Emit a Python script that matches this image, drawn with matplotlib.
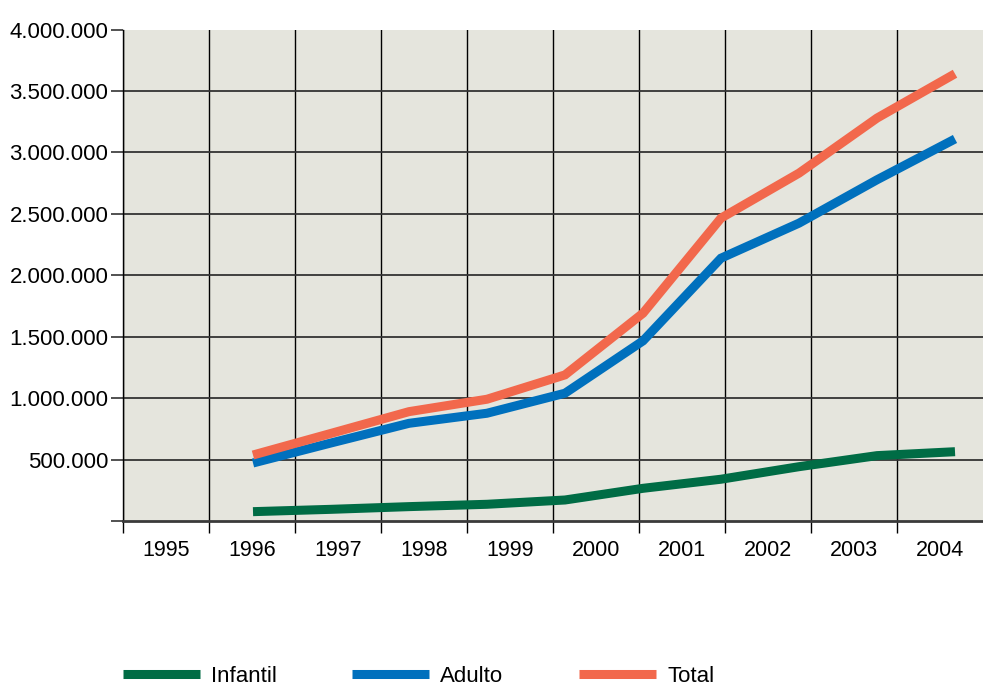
import matplotlib

matplotlib.use("Agg")
import matplotlib.pyplot as plt
from matplotlib.lines import Line2D
from matplotlib.ticker import FixedLocator, FuncFormatter, NullFormatter

# values (people)
years = [1995, 1996, 1997, 1998, 1999, 2000, 2001, 2002, 2003, 2004]
infantil = [76000, 95000, 117000, 136000, 171000, 266000, 340000, 442000, 532000, 564000]
adulto = [472000, 635000, 795000, 877000, 1040000, 1466000, 2139000, 2424000, 2777000, 3109000]
total = [537000, 713000, 890000, 991000, 1189000, 1691000, 2465000, 2831000, 3279000, 3640000]

year_labels = [str(y) for y in years]
y_ticks = list(range(0, 4000001, 500000))

series = [
    ("Infantil", infantil, "#006c45"),
    ("Adulto", adulto, "#0070bd"),
    ("Total", total, "#f2684c"),
]

plt.rcParams["font.family"] = ["Liberation Sans", "DejaVu Sans"]
FS = 16

W, H = 983, 687
fig = plt.figure(figsize=(W / 100, H / 100), dpi=100)
ax = fig.add_axes([123 / W, 1 - 521 / H, 860 / W, (521 - 29.5) / H])
ax.set_facecolor("#e5e5dd")

# category grid: one cell per year label
ax.set_xlim(0, len(years))
ax.xaxis.set_major_locator(FixedLocator(range(len(years))))
ax.xaxis.set_major_formatter(NullFormatter())
ax.xaxis.set_minor_locator(FixedLocator([i + 0.5 for i in range(len(years))]))
ax.set_xticklabels(year_labels, minor=True)
ax.tick_params(axis="x", which="major", length=8.6, width=1.0, color="black", direction="out")
ax.tick_params(axis="x", which="minor", length=0, pad=14, labelsize=FS - 0.5)

ax.set_ylim(0, 4000000)
ax.yaxis.set_major_locator(FixedLocator(y_ticks))
ax.yaxis.set_major_formatter(
    FuncFormatter(lambda v, _: "" if v == 0 else f"{int(v):,}".replace(",", "."))
)
ax.tick_params(axis="y", length=8.6, width=1.2, color="#333333", pad=2, labelsize=FS)

ax.grid(axis="x", color="black", linewidth=1.0)
ax.grid(axis="y", color="#333333", linewidth=1.3)
ax.get_ygridlines()[-1].set_visible(False)
ax.get_ygridlines()[0].set_visible(False)

for side in ("top", "right"):
    ax.spines[side].set_visible(False)
ax.spines["left"].set_color("black")
ax.spines["left"].set_linewidth(1.0)
ax.spines["bottom"].set_color("#3a3a3a")
ax.spines["bottom"].set_linewidth(2.0)

# the data run on their own year scale, offset from the label cells
ax2 = ax.twiny()
ax2.set_xlim(1995 - 130 / 78, 2004 + 28 / 78)
ax2.axis("off")
for name, vals, color in series:
    ax2.plot(years, vals, color=color, linewidth=6.5,
             solid_capstyle="butt", solid_joinstyle="miter", label=name)

handles = [Line2D([], [], color=c, linewidth=6.5, solid_capstyle="butt")
           for _, _, c in series]
fig.legend(handles, [s[0] for s in series], loc="center left",
           bbox_to_anchor=(123 / W, 11 / H), ncol=3, frameon=False,
           fontsize=FS, handlelength=3.46, handletextpad=0.5,
           columnspacing=3.4, borderpad=0, borderaxespad=0)

fig.savefig("out.png", dpi=100)
